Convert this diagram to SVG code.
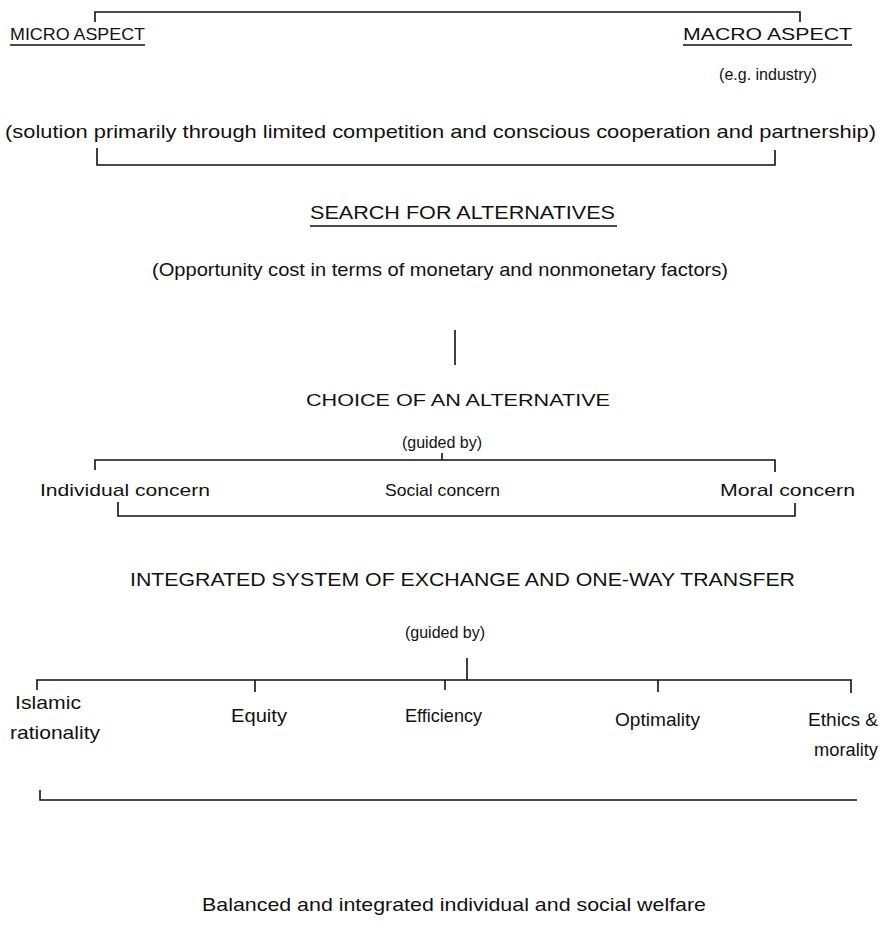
<svg xmlns="http://www.w3.org/2000/svg" width="881" height="946" viewBox="0 0 881 946">
<style>
text{font-family:"Liberation Sans",Arial,sans-serif;font-size:17px;fill:#111}
.t{font-size:19px}
.c{text-anchor:middle}
.ln{stroke:#111;stroke-width:1.6;fill:none}
.ul{stroke:#111;stroke-width:1.3}
</style>
<rect width="881" height="946" fill="#fff"/>
<g id="connectors">
<path class="ln" d="M95,22 V12 H800 V22"/>
<path class="ln" d="M97,148 V165 H775 V150"/>
<path class="ln" d="M455,330 V365"/>
<path class="ln" d="M95,470 V460 H775 V472"/>
<path class="ln" d="M442,453 V460"/>
<path class="ln" d="M118,502 V516 H795 V503"/>
<path class="ln" d="M467,658 V680"/>
<path class="ln" d="M37,690 V680 H851 V693"/>
<path class="ln" d="M255,680 V692 M445,680 V690 M658,680 V692"/>
<path class="ln" d="M40,790 V800 H857"/>
</g>
<g id="micro"><text x="10" y="40" textLength="135" lengthAdjust="spacingAndGlyphs">MICRO ASPECT</text><line class="ul" x1="10" y1="45" x2="145" y2="45"/></g>
<g id="macro"><text x="683" y="40" textLength="169" lengthAdjust="spacingAndGlyphs">MACRO ASPECT</text><line class="ul" x1="683" y1="45" x2="852" y2="45"/><text class="c" x="768" y="80" style="font-size:16px">(e.g. industry)</text></g>
<g id="solution"><text class="t" x="5" y="138" textLength="871" lengthAdjust="spacingAndGlyphs">(solution primarily through limited competition and conscious cooperation and partnership)</text></g>
<g id="search"><text class="t" x="310" y="219" textLength="305" lengthAdjust="spacingAndGlyphs">SEARCH FOR ALTERNATIVES</text><line class="ul" x1="310" y1="226" x2="617" y2="226"/></g>
<g id="opportunity"><text class="t" x="152" y="276" textLength="576" lengthAdjust="spacingAndGlyphs">(Opportunity cost in terms of monetary and nonmonetary factors)</text></g>
<g id="choice"><text x="306" y="406" textLength="304" lengthAdjust="spacingAndGlyphs">CHOICE OF AN ALTERNATIVE</text></g>
<g id="guided1"><text class="c" x="442" y="448" style="font-size:16px">(guided by)</text></g>
<g id="individual"><text x="40" y="496" textLength="170" lengthAdjust="spacingAndGlyphs">Individual concern</text></g>
<g id="social"><text x="385" y="496" textLength="115" lengthAdjust="spacingAndGlyphs">Social concern</text></g>
<g id="moral"><text x="720" y="496" textLength="135" lengthAdjust="spacingAndGlyphs">Moral concern</text></g>
<g id="integrated"><text class="t" x="130" y="586" textLength="665" lengthAdjust="spacingAndGlyphs">INTEGRATED SYSTEM OF EXCHANGE AND ONE-WAY TRANSFER</text></g>
<g id="guided2"><text class="c" x="445" y="638" style="font-size:16px">(guided by)</text></g>
<g id="islamic"><text class="t" x="15" y="709" textLength="66" lengthAdjust="spacingAndGlyphs">Islamic</text><text class="t" x="10" y="739" textLength="90" lengthAdjust="spacingAndGlyphs">rationality</text></g>
<g id="equity"><text class="t" x="231" y="722" textLength="56" lengthAdjust="spacingAndGlyphs">Equity</text></g>
<g id="efficiency"><text class="t" x="405" y="722" textLength="77" lengthAdjust="spacingAndGlyphs">Efficiency</text></g>
<g id="optimality"><text class="t" x="615" y="726" textLength="85" lengthAdjust="spacingAndGlyphs">Optimality</text></g>
<g id="ethics"><text class="t" x="808" y="726" textLength="70" lengthAdjust="spacingAndGlyphs">Ethics &amp;</text><text class="t" x="814" y="756" textLength="64" lengthAdjust="spacingAndGlyphs">morality</text></g>
<g id="welfare"><text class="t" x="202" y="911" textLength="504" lengthAdjust="spacingAndGlyphs">Balanced and integrated individual and social welfare</text></g>
</svg>
